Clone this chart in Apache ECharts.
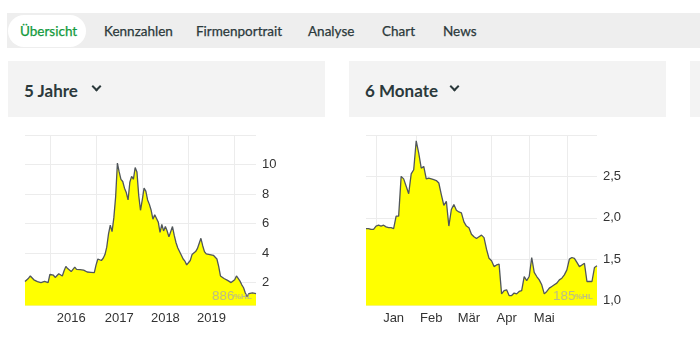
<!DOCTYPE html>
<html><head><meta charset="utf-8">
<script src="https://cdn.jsdelivr.net/npm/echarts@6/dist/echarts.min.js"></script>
<style>
html,body{margin:0;padding:0;background:#fff;width:700px;height:358px;overflow:hidden;font-family:Lato,"Noto Sans",sans-serif;}
.nav{position:absolute;left:7px;top:13px;width:693px;height:35px;background:#eeeeee;}
.pill{position:absolute;left:8px;top:15px;width:78px;height:32px;border-radius:16px;background:#fff;}
.navitem{position:absolute;top:22px;font-size:13.5px;line-height:18px;color:#2b393b;white-space:nowrap;-webkit-text-stroke:0.25px currentColor;}
.navitem.active{color:#139a3c;}
.panel{position:absolute;top:61px;height:56px;background:#f3f3f3;}
.ptitle{position:absolute;top:81px;font-size:17px;line-height:20px;font-weight:bold;color:#2b393b;white-space:nowrap;}
.chev{position:absolute;width:5px;height:5px;border-right:2px solid #2b393b;border-bottom:2px solid #2b393b;transform:rotate(45deg);}
#chart{position:absolute;left:0;top:120px;width:700px;height:215px;}
</style></head>
<body>
<div class="nav"></div>
<div class="pill"></div>
<div class="navitem active" style="left:20px">Übersicht</div>
<div class="navitem" style="left:104px">Kennzahlen</div>
<div class="navitem" style="left:196px">Firmenportrait</div>
<div class="navitem" style="left:308px">Analyse</div>
<div class="navitem" style="left:382px">Chart</div>
<div class="navitem" style="left:443px">News</div>
<div class="panel" style="left:8px;width:317px"></div>
<div class="panel" style="left:349px;width:317px"></div>
<div class="panel" style="left:690px;width:10px"></div>
<div class="ptitle" style="left:24px">5 Jahre</div>
<div class="chev" style="left:93px;top:83px"></div>
<div class="ptitle" style="left:365px">6 Monate</div>
<div class="chev" style="left:451px;top:83px"></div>
<div id="chart"></div>
<script>
// ---- data ----
const fiveYearStart = '2015-06-26';
const fiveYearStepDays = 14;
const fiveYearValues = [
  2.07, 2.18, 2.3, 2.45, 2.36, 2.19, 2.12, 2.07, 2.03, 2.0,
  2.04, 2.08, 2.05, 2.0, 2.55, 2.65, 2.5, 2.35, 2.3, 2.6,
  2.5, 2.45, 2.8, 3.1, 2.95, 2.82, 2.75, 2.8, 3.05, 2.9,
  2.85, 2.88, 2.83, 2.85, 2.8, 2.72, 2.65, 2.7, 2.7, 2.68,
  3.2, 3.6, 3.68, 3.5, 3.65, 3.9, 4.4, 5.3, 5.9, 5.45,
  6.4, 7.8, 10.1, 9.5, 9.0, 8.85, 8.4, 8.1, 7.6, 8.8,
  9.2, 9.0, 9.8, 9.5, 7.9, 6.9, 7.6, 8.4, 8.2, 7.6,
  7.3, 6.9, 6.3, 6.6, 6.5, 6.1, 5.4, 5.95, 5.5, 5.8,
  5.5, 5.1, 5.1, 5.8, 5.2, 4.7, 4.35, 4.4, 3.85, 3.6,
  3.45, 3.2, 3.15, 3.5, 3.9, 3.8, 4.1, 4.3, 4.4, 5.0,
  4.5, 4.1, 3.95, 3.88, 3.9, 3.9, 3.85, 3.8, 3.6, 3.1,
  2.45, 2.35, 2.28, 2.2, 2.15, 2.08, 2.0, 1.87, 2.2, 2.45,
  2.5, 2.1, 1.85, 1.65, 1.3, 1.05, 1.25, 1.15, 1.3, 1.38, 1.25
];
const yearTicks = ['2016', '2017', '2018', '2019'];
const fiveYearAxisMin = 0.45, fiveYearAxisMax = 12, fiveYearStep = 2;

const sixMonthStart = '2019-12-24';
const sixMonthStepDays = 2;
const sixMonthValues = [
  1.87, 1.87, 1.86, 1.86, 1.90, 1.91, 1.90, 1.91, 1.89, 1.88,
  1.88, 1.87, 2.02, 2.02, 2.50, 2.47, 2.38, 2.29, 2.53, 2.58,
  2.93, 2.78, 2.60, 2.62, 2.47, 2.48, 2.47, 2.46, 2.45, 2.42,
  2.28, 2.15, 2.20, 1.90, 2.10, 2.16, 2.09, 2.07, 2.06, 1.95,
  1.90, 1.88, 1.80, 1.77, 1.75, 1.77, 1.79, 1.76, 1.62, 1.51,
  1.48, 1.41, 1.43, 1.44, 1.08, 1.12, 1.13, 1.06, 1.06, 1.09,
  1.08, 1.11, 1.12, 1.29, 1.24, 1.29, 1.52, 1.34, 1.29, 1.25,
  1.19, 1.08, 1.11, 1.15, 1.17, 1.19, 1.21, 1.25, 1.27, 1.31,
  1.37, 1.50, 1.52, 1.51, 1.46, 1.41, 1.43, 1.45, 1.23, 1.23,
  1.23, 1.40, 1.42
];
const monthTicks = ['Jan', 'Feb', 'Mär', 'Apr', 'Mai'];
const monthTickYear = 2020;
const sixMonthAxisMin = 0.94, sixMonthAxisMax = 3.0, sixMonthStep = 0.5;

const fiveYearBadge = '886', sixMonthBadge = '185', badgeUnit = '%HL';

// ---- helpers ----
function buildDates(start, stepDays, n) {
  const p = start.split('-').map(Number);
  const t0 = Date.UTC(p[0], p[1] - 1, p[2]);
  const out = [];
  for (let i = 0; i < n; i++) out.push(new Date(t0 + i * stepDays * 86400000));
  return out;
}
function nearestIndex(dates, t) {
  let best = 0;
  dates.forEach((d, i) => { if (Math.abs(d - t) < Math.abs(dates[best] - t)) best = i; });
  return best;
}
const fiveDates = buildDates(fiveYearStart, fiveYearStepDays, fiveYearValues.length);
const fiveCats = fiveDates.map(d => d.toISOString().slice(0, 10));
const fiveSplit = new Set();
for (let i = 1; i < fiveDates.length; i++) if (fiveDates[i].getUTCFullYear() !== fiveDates[i - 1].getUTCFullYear()) fiveSplit.add(i);
const fiveLabels = {};
yearTicks.forEach(y => { fiveLabels[fiveCats[nearestIndex(fiveDates, Date.UTC(+y, 6, 1))]] = y; });

const sixDates = buildDates(sixMonthStart, sixMonthStepDays, sixMonthValues.length);
const sixCats = sixDates.map(d => d.toISOString().slice(0, 10));
const sixSplit = new Set();
for (let i = 1; i < sixDates.length; i++) if (sixDates[i].getUTCMonth() !== sixDates[i - 1].getUTCMonth()) sixSplit.add(i);
const sixLabels = {};
monthTicks.forEach((m, k) => { sixLabels[sixCats[nearestIndex(sixDates, Date.UTC(monthTickYear, k, 15))]] = m; });

const FONT = 'Liberation Sans';
const gridColor = '#ececec';
const labelColor = '#333333';

function xAxisFor(gi, cats, splitSet, labels) {
  return {
    gridIndex: gi, type: 'category', data: cats, boundaryGap: false,
    axisLine: { show: false }, axisTick: { show: false },
    splitLine: { show: true, interval: (i) => splitSet.has(i), lineStyle: { color: gridColor, width: 1 } },
    axisLabel: {
      interval: (i, v) => labels[v] !== undefined,
      formatter: (v) => labels[v] || '',
      color: labelColor, fontSize: 13, fontFamily: FONT, margin: 6
    }
  };
}
function yAxisFor(gi, min, max, step, fmt) {
  return {
    gridIndex: gi, type: 'value', position: 'right', min: min, max: max,
    minInterval: step, maxInterval: step,
    axisLine: { show: false }, axisTick: { show: false },
    splitLine: { show: true, lineStyle: { color: gridColor, width: 1 } },
    axisLabel: { showMinLabel: false, showMaxLabel: false, color: labelColor, fontSize: 13, fontFamily: FONT, margin: 6, formatter: fmt }
  };
}
function areaSeries(idx, values) {
  return {
    type: 'line', xAxisIndex: idx, yAxisIndex: idx, data: values,
    symbol: 'none', showSymbol: false, silent: true,
    lineStyle: { color: '#50565b', width: 1.3 },
    areaStyle: { color: '#ffff00', opacity: 1, origin: 'start' }
  };
}

const chart = echarts.init(document.getElementById('chart'), null, { renderer: 'canvas' });
chart.setOption({
  animation: false,
  grid: [
    { left: 25, top: 15, width: 231, height: 170.5 },
    { left: 366, top: 15, width: 231, height: 170.5 }
  ],
  xAxis: [xAxisFor(0, fiveCats, fiveSplit, fiveLabels), xAxisFor(1, sixCats, sixSplit, sixLabels)],
  yAxis: [
    yAxisFor(0, fiveYearAxisMin, fiveYearAxisMax, fiveYearStep, (v) => String(v)),
    yAxisFor(1, sixMonthAxisMin, sixMonthAxisMax, sixMonthStep, (v) => v.toFixed(1).replace('.', ','))
  ],
  series: [areaSeries(0, fiveYearValues), areaSeries(1, sixMonthValues)],
  graphic: [
    { type: 'text', left: 212, top: 169, z: 100, silent: true, style: { text: fiveYearBadge, fill: 'rgba(170,170,170,0.8)', font: '13.5px "Liberation Sans"' } },
    { type: 'text', left: 234, top: 173, z: 100, silent: true, style: { text: badgeUnit, fill: 'rgba(170,170,170,0.8)', font: 'bold 8px "Liberation Sans"' } },
    { type: 'text', left: 553, top: 169, z: 100, silent: true, style: { text: sixMonthBadge, fill: 'rgba(170,170,170,0.8)', font: '13.5px "Liberation Sans"' } },
    { type: 'text', left: 575, top: 173, z: 100, silent: true, style: { text: badgeUnit, fill: 'rgba(170,170,170,0.8)', font: 'bold 8px "Liberation Sans"' } }
  ]
});
</script>
</body></html>
